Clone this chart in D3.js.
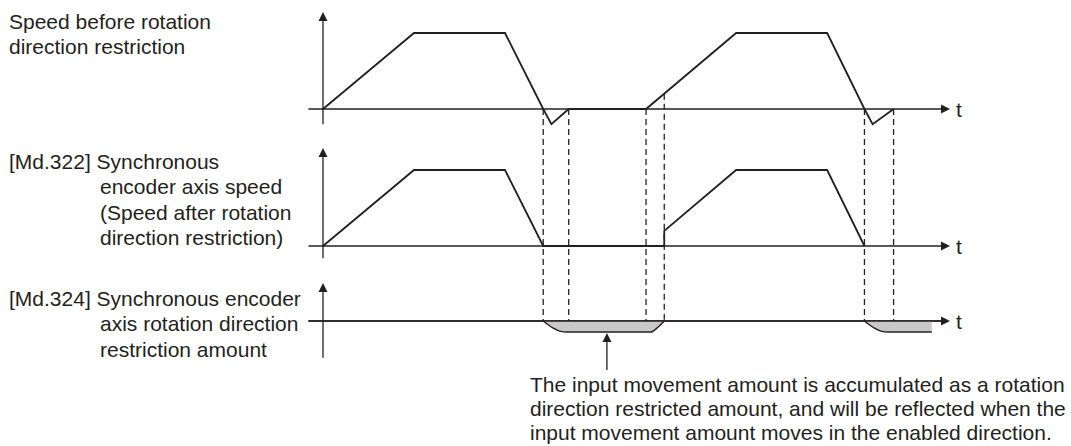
<!DOCTYPE html>
<meta charset="utf-8">
<style>
  body { margin: 0; background: #fff; }
  text { font-family: "Liberation Sans", Arial, sans-serif; font-size: 21px; fill: #231f20; }
</style>
<body>
<div id="chart"></div>

<script src="https://d3js.org/d3.v7.min.js"></script>
<script>

// speed before rotation direction restriction (time units, % of max speed)
var beforeT     = [0, 10, 20, 24.2, 25.1, 27, 35.5, 45.4, 55.4, 59.5, 60.4, 62.7];
var beforeSpeed = [0, 100, 100, 0, -20, 0, 0, 100, 100, 0, -20, 0];

// speed after restriction (negative part cut away)
var afterT     = [0, 10, 20, 24.2, 37.5, 37.5, 45.4, 55.4, 59.5];
var afterSpeed = [0, 100, 100, 0, 0, 20, 100, 100, 0];

// accumulated restriction amount, two periods
var amountT1 = [24.2, 25.3, 26.0, 26.8, 36.0, 36.8, 37.5];
var amount1  = [0, -6.5, -9.2, -10, -10, -5.7, 0];
var amountT2 = [59.5, 60.6, 61.3, 62.1, 66.9];
var amount2  = [0, -6.5, -9.2, -10, -10];

// dashed guide lines: time, top value (speed), bottom value (amount)
var guideT      = [24.2, 27, 35.5, 37.5, 59.5, 62.7];
var guideTop    = [0, 0, 0, 20, 0, 0];
var guideBottom = [0, -10, -10, 0, 0, -10];

var labels = [
  ["Speed before rotation", "direction restriction"],
  ["[Md.322] Synchronous", "encoder axis speed", "(Speed after rotation", "direction restriction)"],
  ["[Md.324] Synchronous encoder", "axis rotation direction", "restriction amount"]
];
var note = [
  "The input movement amount is accumulated as a rotation",
  "direction restricted amount, and will be reflected when the",
  "input movement amount moves in the enabled direction."
];

var ink = "#231f20";
var width = 1071, height = 446;

var svg = d3.select("#chart")
  .append("svg")
    .attr("width", width)
    .attr("height", height);

// time axis shared by all three panels
var x = d3.scaleLinear().domain([0, 10]).range([323, 414]);
var tStart = -1.6, tEnd = 68.9;

// one y scale per panel
var y1 = d3.scaleLinear().domain([0, 100]).range([109, 33]);
var y2 = d3.scaleLinear().domain([0, 100]).range([246, 170]);
var y3 = d3.scaleLinear().domain([0, -10]).range([321, 332]);

function zip(ts, vs) { return ts.map(function(t, i) { return [t, vs[i]]; }); }

// axes with arrow heads
function drawAxes(y, top, bottom) {
  var y0 = y(0), x0 = x(0), xe = x(tEnd);
  svg.append("line")
    .attr("x1", x(tStart)).attr("x2", xe - 4)
    .attr("y1", y0).attr("y2", y0)
    .attr("stroke", ink).attr("stroke-width", 1.3);
  svg.append("path")
    .attr("d", "M" + xe + "," + y0 + "L" + (xe - 9) + "," + (y0 - 4.5) + "L" + (xe - 9) + "," + (y0 + 4.5) + "Z")
    .attr("fill", ink);
  svg.append("line")
    .attr("x1", x0).attr("x2", x0)
    .attr("y1", y(bottom)).attr("y2", y(top) + 4)
    .attr("stroke", ink).attr("stroke-width", 1.3);
  svg.append("path")
    .attr("d", "M" + x0 + "," + y(top) + "L" + (x0 - 4.5) + "," + (y(top) + 9) + "L" + (x0 + 4.5) + "," + (y(top) + 9) + "Z")
    .attr("fill", ink);
  svg.append("text")
    .attr("x", xe + 6)
    .attr("y", y0 + 8)
    .text("t");
}

drawAxes(y1, 127.6, -20);
drawAxes(y2, 129, -16);
drawAxes(y3, 34.5, -33.5);

// dashed guides
svg.selectAll("line.guide")
  .data(guideT)
  .enter()
  .append("line")
    .attr("class", "guide")
    .attr("x1", function(d) { return x(d); })
    .attr("x2", function(d) { return x(d); })
    .attr("y1", function(d, i) { return y1(guideTop[i]); })
    .attr("y2", function(d, i) { return y3(guideBottom[i]); })
    .attr("stroke", ink)
    .attr("stroke-width", 1.3)
    .attr("stroke-dasharray", "6,4");

// restriction amount areas
var area = d3.area()
  .x(function(d) { return x(d[0]); })
  .y0(y3(0))
  .y1(function(d) { return y3(d[1]); })
  .curve(d3.curveMonotoneX);
var amountLine = d3.line()
  .x(function(d) { return x(d[0]); })
  .y(function(d) { return y3(d[1]); })
  .curve(d3.curveMonotoneX);

[zip(amountT1, amount1), zip(amountT2, amount2)].forEach(function(pts) {
  svg.append("path")
    .attr("d", area(pts))
    .attr("fill", "#c8c8c9");
  svg.append("path")
    .attr("d", amountLine(pts))
    .attr("fill", "none")
    .attr("stroke", ink)
    .attr("stroke-width", 1.5);
});
// redraw the panel 3 baseline on top of the fill
svg.append("line")
  .attr("x1", x(tStart)).attr("x2", x(tEnd) - 4)
  .attr("y1", y3(0)).attr("y2", y3(0))
  .attr("stroke", ink).attr("stroke-width", 1.3);

// speed profiles
var speedLine1 = d3.line()
  .x(function(d) { return x(d[0]); })
  .y(function(d) { return y1(d[1]); });
var speedLine2 = d3.line()
  .x(function(d) { return x(d[0]); })
  .y(function(d) { return y2(d[1]); });

svg.append("path")
  .attr("d", speedLine1(zip(beforeT, beforeSpeed)))
  .attr("fill", "none")
  .attr("stroke", ink)
  .attr("stroke-width", 1.8);
svg.append("path")
  .attr("d", speedLine2(zip(afterT, afterSpeed)))
  .attr("fill", "none")
  .attr("stroke", ink)
  .attr("stroke-width", 1.8);

// panel labels
var labelTops = [29, 169, 306];
labels.forEach(function(lines, p) {
  var t = svg.append("text");
  lines.forEach(function(s, i) {
    t.append("tspan")
      .attr("x", (p === 0 || i === 0) ? 9 : 100)
      .attr("y", labelTops[p] + i * 25.3)
      .text(s);
  });
});

// annotation arrow and note
var ax = x(31.2);
svg.append("line")
  .attr("x1", ax).attr("x2", ax)
  .attr("y1", y3(-10) + 6).attr("y2", 370)
  .attr("stroke", ink).attr("stroke-width", 1.3);
svg.append("path")
  .attr("d", "M" + ax + "," + (y3(-10) + 1) + "L" + (ax - 4.5) + "," + (y3(-10) + 10) + "L" + (ax + 4.5) + "," + (y3(-10) + 10) + "Z")
  .attr("fill", ink);

var nt = svg.append("text");
note.forEach(function(s, i) {
  nt.append("tspan")
    .attr("x", 530)
    .attr("y", 392 + i * 24)
    .text(s);
});

</script>
</body>
